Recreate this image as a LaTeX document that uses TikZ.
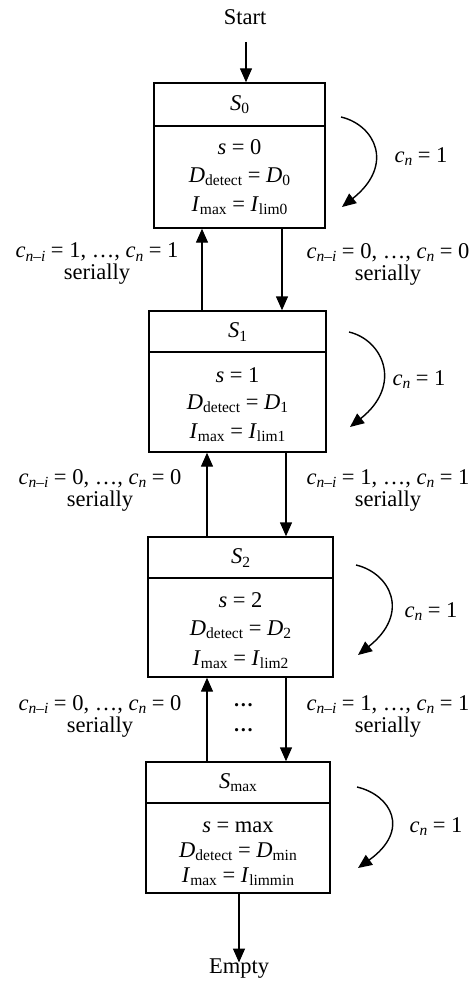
\documentclass[tikz,border=0pt]{standalone}
\usepackage{fontspec}
\setmainfont{Liberation Serif}
\usetikzlibrary{arrows.meta}
\newcommand{\sbs}[1]{\raisebox{-0.3ex}{\fontsize{15.5}{15.5}\selectfont #1}}
\newcommand{\myC}{\textit{c}\sbs{\textit{n}}}
\newcommand{\myCi}{\textit{c}\sbs{\textit{n}–\textit{i}}}
\newcommand{\mySl}[1]{\textit{s} = #1}
\newcommand{\myDl}[1]{\textit{D}\sbs{detect} = \textit{D}\sbs{#1}}
\newcommand{\myIl}[1]{\textit{I}\sbs{max} = \textit{I}\sbs{lim#1}}
\newcommand{\myLbl}[2]{\myCi{} = #1, …, \myC{} = #2\\serially}
\begin{document}
\begin{tikzpicture}[x=1pt,y=-1pt,
  every node/.style={font=\fontsize{22.5}{22}\selectfont, inner sep=1pt},
  statebox/.style={draw, line width=1.4pt, inner sep=0pt},
  ln/.style={line width=1.4pt},
  arr/.style={line width=1.4pt, -{Triangle[length=14pt,width=12pt]}},
  lbl/.style={align=center}]
\useasboundingbox (0,0) rectangle (475,984);

% boxes
\node[statebox, minimum width=171pt, minimum height=145pt] (s0) at (239.5,155.5) {};
\node[statebox, minimum width=177pt, minimum height=141pt] (s1) at (237.5,381.5) {};
\node[statebox, minimum width=185pt, minimum height=140pt] (s2) at (240.5,607) {};
\node[statebox, minimum width=184pt, minimum height=131pt] (sm) at (238,827.5) {};

% dividers
\coordinate (h0) at (0,126);
\coordinate (h1) at (0,352);
\coordinate (h2) at (0,578);
\coordinate (hm) at (0,803);
\draw[ln] (s0.west |- h0) -- (s0.east |- h0);
\draw[ln] (s1.west |- h1) -- (s1.east |- h1);
\draw[ln] (s2.west |- h2) -- (s2.east |- h2);
\draw[ln] (sm.west |- hm) -- (sm.east |- hm);

% box texts
\node (s0h) at (239.5,105) {\textit{S}\sbs{0}};
\node (s0a) at (239.5,147) {\mySl{0}};
\node (s0b) at (239.5,177) {\myDl{0}};
\node (s0c) at (239.5,206) {\myIl{0}};

\node (s1h) at (237.5,332) {\textit{S}\sbs{1}};
\node (s1a) at (237.5,375) {\mySl{1}};
\node (s1b) at (237.5,404) {\myDl{1}};
\node (s1c) at (237.5,433) {\myIl{1}};

\node (s2h) at (240.5,558) {\textit{S}\sbs{2}};
\node (s2a) at (240.5,600) {\mySl{2}};
\node (s2b) at (240.5,630) {\myDl{2}};
\node (s2c) at (240.5,660) {\myIl{2}};

\node (smh) at (238,783) {\textit{S}\sbs{max}};
\node (sma) at (238,827) {\mySl{max}};
\node (smb) at (238,852) {\myDl{min}};
\node (smc) at (238,877) {\myIl{min}};

% start / empty
\node (start) at (245,17.5) {Start};
\node (empty) at (239,968.5) {Empty};
\coordinate (st) at (246,42);
\draw[arr] (st) -- (st |- s0.north);
\draw[arr] (sm.south -| empty) -- ([yshift=-5pt]empty.north);

% vertical transitions
\coordinate (u1) at (202,0);
\coordinate (d1) at (282,0);
\coordinate (u2) at (207,0);
\coordinate (d2) at (286,0);
\coordinate (u3) at (207,0);
\coordinate (d3) at (286,0);
\draw[arr] (s1.north -| u1) -- (s0.south -| u1);
\draw[arr] (s0.south -| d1) -- (s1.north -| d1);
\draw[arr] (s2.north -| u2) -- (s1.south -| u2);
\draw[arr] (s1.south -| d2) -- (s2.north -| d2);
\draw[arr] (sm.north -| u3) -- (s2.south -| u3);
\draw[arr] (s2.south -| d3) -- (sm.north -| d3);

% transition labels
\node[lbl] (l01) at (97,264) {\myLbl{1}{1}};
\node[lbl] (r01) at (388,264) {\myLbl{0}{0}};
\node[lbl] (l12) at (100,490) {\myLbl{0}{0}};
\node[lbl] (r12) at (388,490) {\myLbl{1}{1}};
\node[lbl] (l23) at (100,716) {\myLbl{0}{0}};
\node[lbl] (r23) at (388,716) {\myLbl{1}{1}};

% dots
\node[font=\fontsize{20}{20}\selectfont\bfseries] (dt1) at (244,705) {\textit{…}};
\node[font=\fontsize{20}{20}\selectfont\bfseries] (dt2) at (244,730) {\textit{…}};

% self loops
\coordinate (a0s) at (341,117); \coordinate (a0e) at (342,207);
\coordinate (a1s) at (349,332); \coordinate (a1e) at (350,427);
\coordinate (a2s) at (356,565); \coordinate (a2e) at (358,655);
\coordinate (ams) at (357,787); \coordinate (ame) at (358,868);
\draw[arr] (a0s) .. controls (375,125) and (395,165) .. (a0e);
\draw[arr] (a1s) .. controls (383,340) and (403,385) .. (a1e);
\draw[arr] (a2s) .. controls (390,573) and (411,613) .. (a2e);
\draw[arr] (ams) .. controls (391,795) and (411,830) .. (ame);
\node (k0) at (421,157) {\myC{} = 1};
\node (k1) at (419,380) {\myC{} = 1};
\node (k2) at (431,612) {\myC{} = 1};
\node (km) at (436,827) {\myC{} = 1};
\end{tikzpicture}
\end{document}
